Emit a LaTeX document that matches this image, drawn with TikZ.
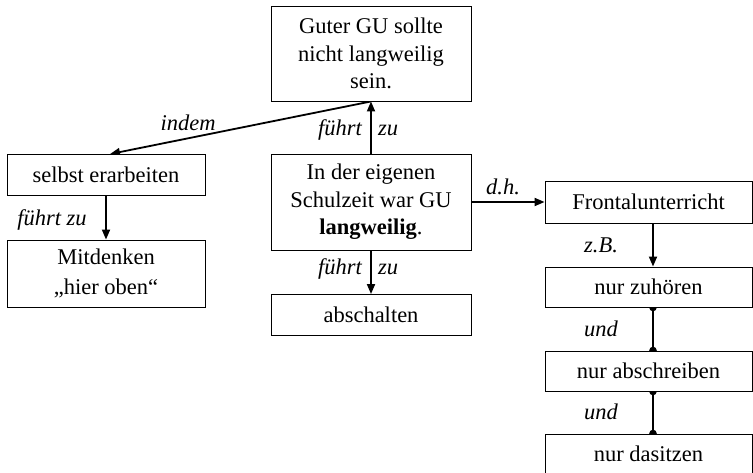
\documentclass[tikz,border=0pt]{standalone}
\usepackage{fontspec}
\setmainfont{Liberation Serif}
\usetikzlibrary{arrows.meta,backgrounds}
\begin{document}
\begin{tikzpicture}[x=1pt,y=-1pt,
  box/.style={draw,fill=white,line width=0.9pt,align=center,inner sep=0pt,font=\fontsize{22.5}{27.5}\selectfont},
  lbl/.style={font=\fontsize{22.5}{26}\selectfont\itshape,inner sep=0pt},
  arr/.style={line width=1.8pt,-{Triangle[length=10pt,width=8pt]}},
  dotl/.style={line width=1.8pt,{Circle[length=7.5pt]}-{Circle[length=7.5pt]},shorten <=-3.75pt,shorten >=-3.75pt}]
\useasboundingbox (0,0) rectangle (753,473);
\node[box,minimum width=200,minimum height=95] (top) at (371,53.5) {Guter GU sollte\\nicht langweilig\\sein.};
\node[box,minimum width=200,minimum height=96] (cen) at (371,202) {In der eigenen\\Schulzeit war GU\\\textbf{langweilig}.};
\node[box,minimum width=200,minimum height=41] (abs) at (371,315) {abschalten};
\node[box,minimum width=198,minimum height=41] (sel) at (106,175) {selbst erarbeiten};
\node[box,minimum width=198,minimum height=67] (mit) at (106,273.5) {Mitdenken\\[2pt]„hier oben“};
\node[box,minimum width=207,minimum height=42] (fro) at (648.5,202) {Frontalunterricht};
\node[box,minimum width=207,minimum height=40] (zuh) at (648.5,287) {nur zuhören};
\node[box,minimum width=207,minimum height=40] (asr) at (648.5,371) {nur abschreiben};
\node[box,minimum width=207,minimum height=40] (das) at (648.5,454) {nur dasitzen};
% connectors
\begin{scope}[on background layer]
\draw[arr] (cen.north) -- (top.south);
\draw[arr] (top.south) -- ([xshift=4pt]sel.north);
\draw[arr] (sel.south) -- (mit.north);
\draw[arr] (cen.south) -- (abs.north);
\draw[arr] (cen.east) -- (fro.west);
\draw[arr] ([xshift=4.5pt]fro.south) -- ([xshift=4.5pt]zuh.north);
\draw[dotl] ([xshift=4.5pt]zuh.south) -- ([xshift=4.5pt]asr.north);
\draw[dotl] ([xshift=4.5pt]asr.south) -- ([xshift=4.5pt]das.north);
\end{scope}
% labels
\node[lbl] (l1) at (188,123) {indem};
\node[lbl,anchor=east] (l2) at (362,130) {führt};
\node[lbl] (l3) at (388,130) {zu};
\node[lbl] (l4) at (503,187) {d.h.};
\node[lbl] (l5) at (52,220) {führt zu};
\node[lbl,anchor=east] (l6) at (362,269) {führt};
\node[lbl] (l7) at (388,269) {zu};
\node[lbl] (l8) at (601,245) {z.B.};
\node[lbl] (l9) at (601,329) {und};
\node[lbl] (l10) at (601,412) {und};
\end{tikzpicture}
\end{document}
